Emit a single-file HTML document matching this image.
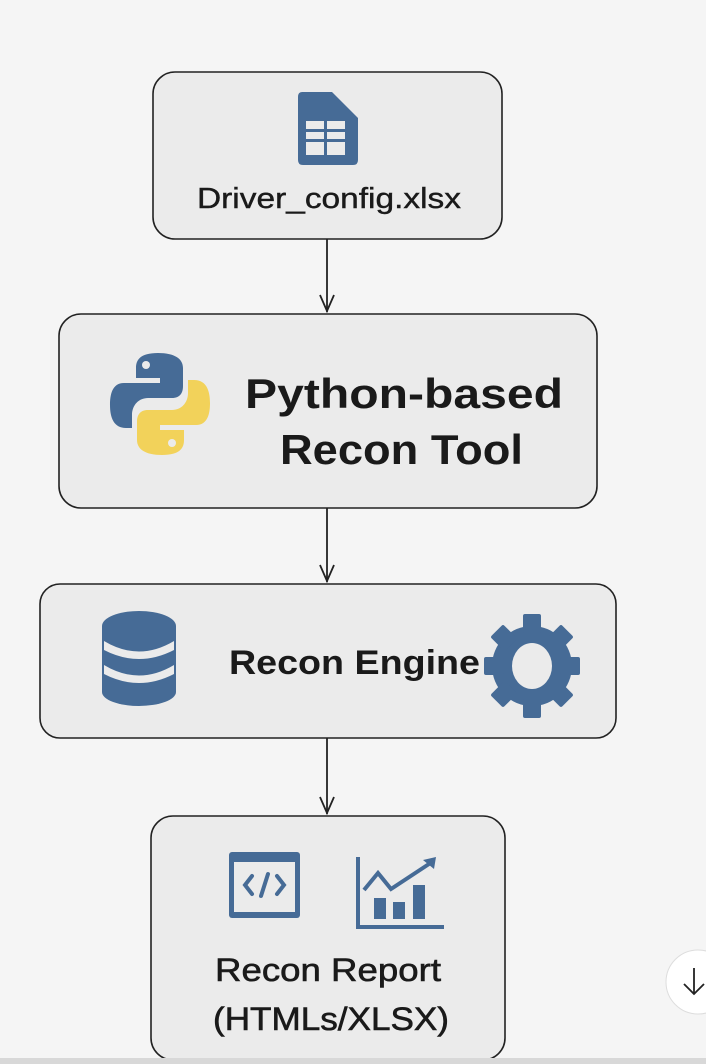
<!DOCTYPE html>
<html><head><meta charset="utf-8"><style>
html,body{margin:0;padding:0;background:#f5f5f5;}
svg{display:block;}
text{font-family:"Liberation Sans","DejaVu Sans",sans-serif;fill:#1a1a1a;}
</style></head><body>
<svg width="706" height="1064" viewBox="0 0 706 1064" xmlns="http://www.w3.org/2000/svg">
<rect width="706" height="1064" fill="#f5f5f5"/>
<g fill="#ebebeb" stroke="#222" stroke-width="1.6">
<rect x="153" y="72" width="349" height="167" rx="22"/>
<rect x="59" y="314" width="538" height="194" rx="22"/>
<rect x="40" y="584" width="576" height="154" rx="20"/>
<rect x="151" y="816" width="354" height="244" rx="22"/>
</g>
<g stroke="#222" stroke-width="1.8" fill="none">
<line x1="327" y1="239" x2="327" y2="312"/><path d="M320 295 L327 311 L334 295"/>
<line x1="327" y1="508" x2="327" y2="582"/><path d="M320 565 L327 581 L334 565"/>
<line x1="327" y1="738" x2="327" y2="814"/><path d="M320 797 L327 813 L334 797"/>
</g>
<!-- spreadsheet icon -->
<path d="M302 92 H332 L358 118 V160 Q358 165 353 165 H303 Q298 165 298 160 V97 Q298 92 302 92Z" fill="#466b96"/>
<g fill="#ebebeb"><rect x="306" y="121" width="18" height="8"/><rect x="327" y="121" width="18" height="8"/><rect x="306" y="132" width="18" height="7"/><rect x="327" y="132" width="18" height="7"/><rect x="306" y="142" width="18" height="13"/><rect x="327" y="142" width="18" height="13"/></g>
<text x="197" y="208" font-size="29" textLength="264" lengthAdjust="spacingAndGlyphs" stroke="#1a1a1a" stroke-width="0.4">Driver_config.xlsx</text>
<!-- python logo -->
<path d="M158 353 C140 353 136 360 136 368 V378 H160 V383 H124 C112 383 110 395 110 405 C110 418 114 428 126 428 H132 V415 C132 405 139 398 148 398 H172 C180 398 183 393 183 386 V368 C183 359 175 353 158 353Z" fill="#466b96"/>
<circle cx="146" cy="365" r="4" fill="#ebebeb"/>
<path d="M162 455 C180 455 184 448 184 440 V430 H160 V425 H196 C208 425 210 413 210 403 C210 390 206 380 194 380 H188 V393 C188 403 181 410 172 410 H148 C140 410 137 415 137 422 V440 C137 449 145 455 162 455Z" fill="#f2d25a"/>
<circle cx="172" cy="443" r="4" fill="#ebebeb"/>
<text x="245" y="408" font-size="42" font-weight="bold" textLength="318" lengthAdjust="spacingAndGlyphs">Python-based</text>
<text x="280" y="464" font-size="42" font-weight="bold" textLength="243" lengthAdjust="spacingAndGlyphs">Recon Tool</text>
<!-- db -->
<g fill="#466b96"><ellipse cx="139" cy="626" rx="37" ry="15"/><rect x="102" y="626" width="74" height="66"/><ellipse cx="139" cy="692" rx="37" ry="14"/></g>
<path d="M104 641 Q139 662 174 641 L174 650 Q139 668 104 650Z" fill="#ebebeb"/>
<path d="M104 665 Q139 686 174 665 L174 674 Q139 692 104 674Z" fill="#ebebeb"/>
<text x="229" y="674" font-size="34" font-weight="bold" textLength="251" lengthAdjust="spacingAndGlyphs">Recon Engine</text>
<!-- gear -->
<g transform="translate(532 666)" fill="#466b96">
<circle r="40"/>
<g><rect x="-9" y="-52" width="18" height="20" rx="2"/><rect x="-9" y="32" width="18" height="20" rx="2"/><rect x="-48" y="-9" width="20" height="18" rx="2"/><rect x="28" y="-9" width="20" height="18" rx="2"/>
<g transform="rotate(45)"><rect x="-9" y="-50" width="18" height="20" rx="2"/><rect x="-9" y="30" width="18" height="20" rx="2"/><rect x="-50" y="-9" width="20" height="18" rx="2"/><rect x="30" y="-9" width="20" height="18" rx="2"/></g></g>
<ellipse rx="20" ry="23" fill="#ebebeb"/>
</g>
<!-- code icon -->
<rect x="229" y="852" width="71" height="66" rx="3" fill="#466b96"/>
<rect x="234" y="862" width="61" height="50" fill="#ebebeb"/>
<g stroke="#466b96" stroke-width="4" fill="none" stroke-linecap="round"><path d="M252 876 L245 885 L252 894"/><path d="M277 876 L284 885 L277 894"/><path d="M268 874 L261 896"/></g>
<!-- chart -->
<g fill="#466b96"><rect x="356" y="857" width="4" height="72"/><rect x="356" y="925" width="88" height="4"/><rect x="374" y="898" width="12" height="21"/><rect x="393" y="902" width="12" height="17"/><rect x="413" y="885" width="12" height="34"/></g>
<path d="M364 890 L378 873 L391 889 L432 862" stroke="#466b96" stroke-width="4" fill="none"/>
<path d="M423 860 L436 857 L434 869Z" fill="#466b96"/>
<text x="215" y="981" font-size="32" textLength="226" lengthAdjust="spacingAndGlyphs" stroke="#1a1a1a" stroke-width="0.6">Recon Report</text>
<text x="213" y="1030" font-size="32" textLength="236" lengthAdjust="spacingAndGlyphs" stroke="#1a1a1a" stroke-width="0.6">(HTMLs/XLSX)</text>
<rect x="0" y="1058" width="706" height="6" fill="#d8d8d8"/>
<circle cx="698" cy="982" r="32" fill="#fff" stroke="#ddd"/>
<g stroke="#222" stroke-width="1.8" fill="none"><line x1="694" y1="968" x2="694" y2="994"/><path d="M684 984 L694 994 L704 984"/></g>
</svg>
</body></html>
